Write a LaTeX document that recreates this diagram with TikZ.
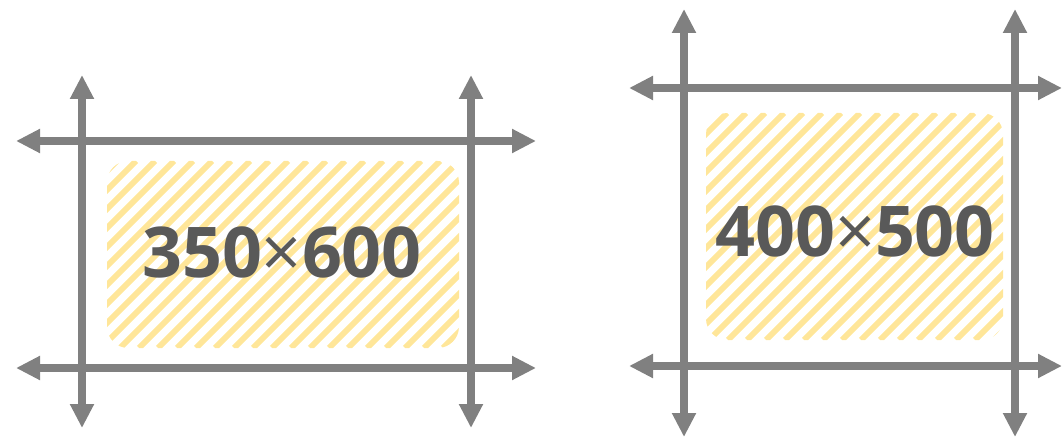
\documentclass[tikz,border=0pt]{standalone}
\usepackage{fontspec}
\setmainfont{Open Sans}
\usetikzlibrary{arrows.meta}
\definecolor{axisgray}{HTML}{808080}
\definecolor{txtgray}{HTML}{595959}
\definecolor{hatchy}{HTML}{FFE699}
\newcommand{\thinx}{{\mdseries ×}}
\begin{document}
\begin{tikzpicture}[x=0.75pt,y=-0.75pt,
  axis/.style={draw=axisgray,line width=6pt,{Triangle[length=18pt,width=17pt]}-{Triangle[length=18pt,width=17pt]}},
  hatchline/.style={draw=hatchy,line width=4.4pt},
  label/.style={inner sep=0pt,text=txtgray,font=\bfseries\fontsize{52.5pt}{60pt}\selectfont}]
\useasboundingbox (0,0) rectangle (1062,438);
% ---- left figure ----
\begin{scope}
  \clip[rounded corners=16pt] (107,161) rectangle (459,348);
  \foreach \i in {-215,-196,...,480} {
    \draw[hatchline] (107+\i,348) -- (107+\i+187,161);
  }
\end{scope}
\node[label] (t1) at (282,252) {350\thinx600};
\coordinate (l1t) at (82,75);  \coordinate (l1b) at (82,428);
\coordinate (l2t) at (471,75); \coordinate (l2b) at (471,428);
\coordinate (h1l) at (16,141); \coordinate (h1r) at (536,141);
\coordinate (h2l) at (16,368); \coordinate (h2r) at (536,368);
\draw[axis] (l1t) -- (l1b);
\draw[axis] (l2t) -- (l2b);
\draw[axis] (h1l) -- (h1r);
\draw[axis] (h2l) -- (h2r);
% ---- right figure ----
\begin{scope}
  \clip[rounded corners=16pt] (706,113) rectangle (1003,340);
  \foreach \i in {-263,-244,...,420} {
    \draw[hatchline] (706+\i,340) -- (706+\i+227,113);
  }
\end{scope}
\node[label] (t2) at (855,231) {400\thinx500};
\coordinate (r1t) at (684,9);   \coordinate (r1b) at (684,437);
\coordinate (r2t) at (1015,9);  \coordinate (r2b) at (1015,437);
\coordinate (g1l) at (629,88);  \coordinate (g1r) at (1062,88);
\coordinate (g2l) at (629,366); \coordinate (g2r) at (1062,366);
\draw[axis] (r1t) -- (r1b);
\draw[axis] (r2t) -- (r2b);
\draw[axis] (g1l) -- (g1r);
\draw[axis] (g2l) -- (g2r);
\end{tikzpicture}
\end{document}
